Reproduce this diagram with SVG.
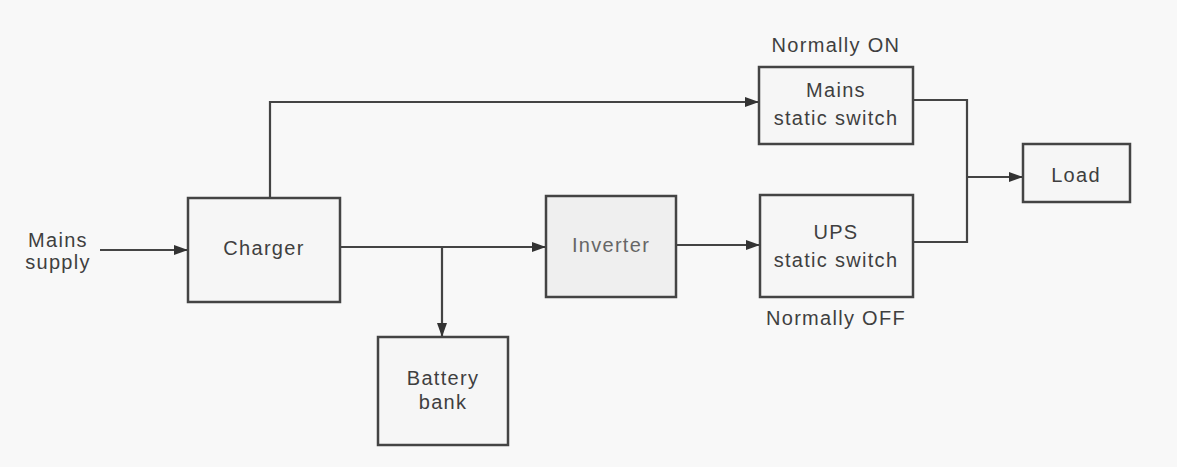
<svg xmlns="http://www.w3.org/2000/svg" width="1177" height="467" viewBox="0 0 1177 467">
<style>
.box{fill:#f6f6f6;stroke:#444;stroke-width:2.5}
.ln{fill:none;stroke:#444;stroke-width:2.2}
.t{font-family:"Liberation Sans",Arial,sans-serif;font-size:20px;letter-spacing:1.3px;fill:#3f3f3f;text-anchor:middle}
</style>
<defs>
<marker id="ah" viewBox="0 0 14 10" refX="14" refY="5" markerWidth="14" markerHeight="10" markerUnits="userSpaceOnUse" orient="auto">
<path d="M0,0 L14,5 L0,10 Z" fill="#333"/>
</marker>
</defs>
<rect width="1177" height="467" fill="#f8f8f8"/>
<g id="connectors">
<line class="ln" x1="100" y1="250" x2="188" y2="250" marker-end="url(#ah)"/>
<polyline class="ln" points="270,198 270,102 759,102" marker-end="url(#ah)"/>
<line class="ln" x1="340" y1="247" x2="546" y2="247" marker-end="url(#ah)"/>
<line class="ln" x1="442" y1="247" x2="442" y2="337" marker-end="url(#ah)"/>
<line class="ln" x1="676" y1="245" x2="760" y2="245" marker-end="url(#ah)"/>
<polyline class="ln" points="913,100 967,100 967,242 913,242"/>
<line class="ln" x1="967" y1="177" x2="1023" y2="177" marker-end="url(#ah)"/>
</g>
<g id="mains-supply">
<text class="t" x="58" y="247">Mains</text>
<text class="t" x="58" y="269">supply</text>
</g>
<g id="charger">
<rect class="box" x="188" y="198" width="152" height="104"/>
<text class="t" x="264" y="255">Charger</text>
</g>
<g id="inverter">
<rect class="box" x="546" y="196" width="130" height="101" style="fill:#efefef"/>
<text class="t" x="611" y="252" style="fill:#666">Inverter</text>
</g>
<g id="battery-bank">
<rect class="box" x="378" y="337" width="130" height="108"/>
<text class="t" x="443" y="385">Battery</text>
<text class="t" x="443" y="409">bank</text>
</g>
<g id="mains-static-switch">
<text class="t" x="836" y="52">Normally ON</text>
<rect class="box" x="759" y="67" width="154" height="77"/>
<text class="t" x="836" y="97">Mains</text>
<text class="t" x="836" y="125">static switch</text>
</g>
<g id="ups-static-switch">
<rect class="box" x="760" y="195" width="153" height="102"/>
<text class="t" x="836" y="239">UPS</text>
<text class="t" x="836" y="267">static switch</text>
<text class="t" x="836" y="325">Normally OFF</text>
</g>
<g id="load">
<rect class="box" x="1023" y="144" width="107" height="58"/>
<text class="t" x="1076" y="182">Load</text>
</g>
</svg>
